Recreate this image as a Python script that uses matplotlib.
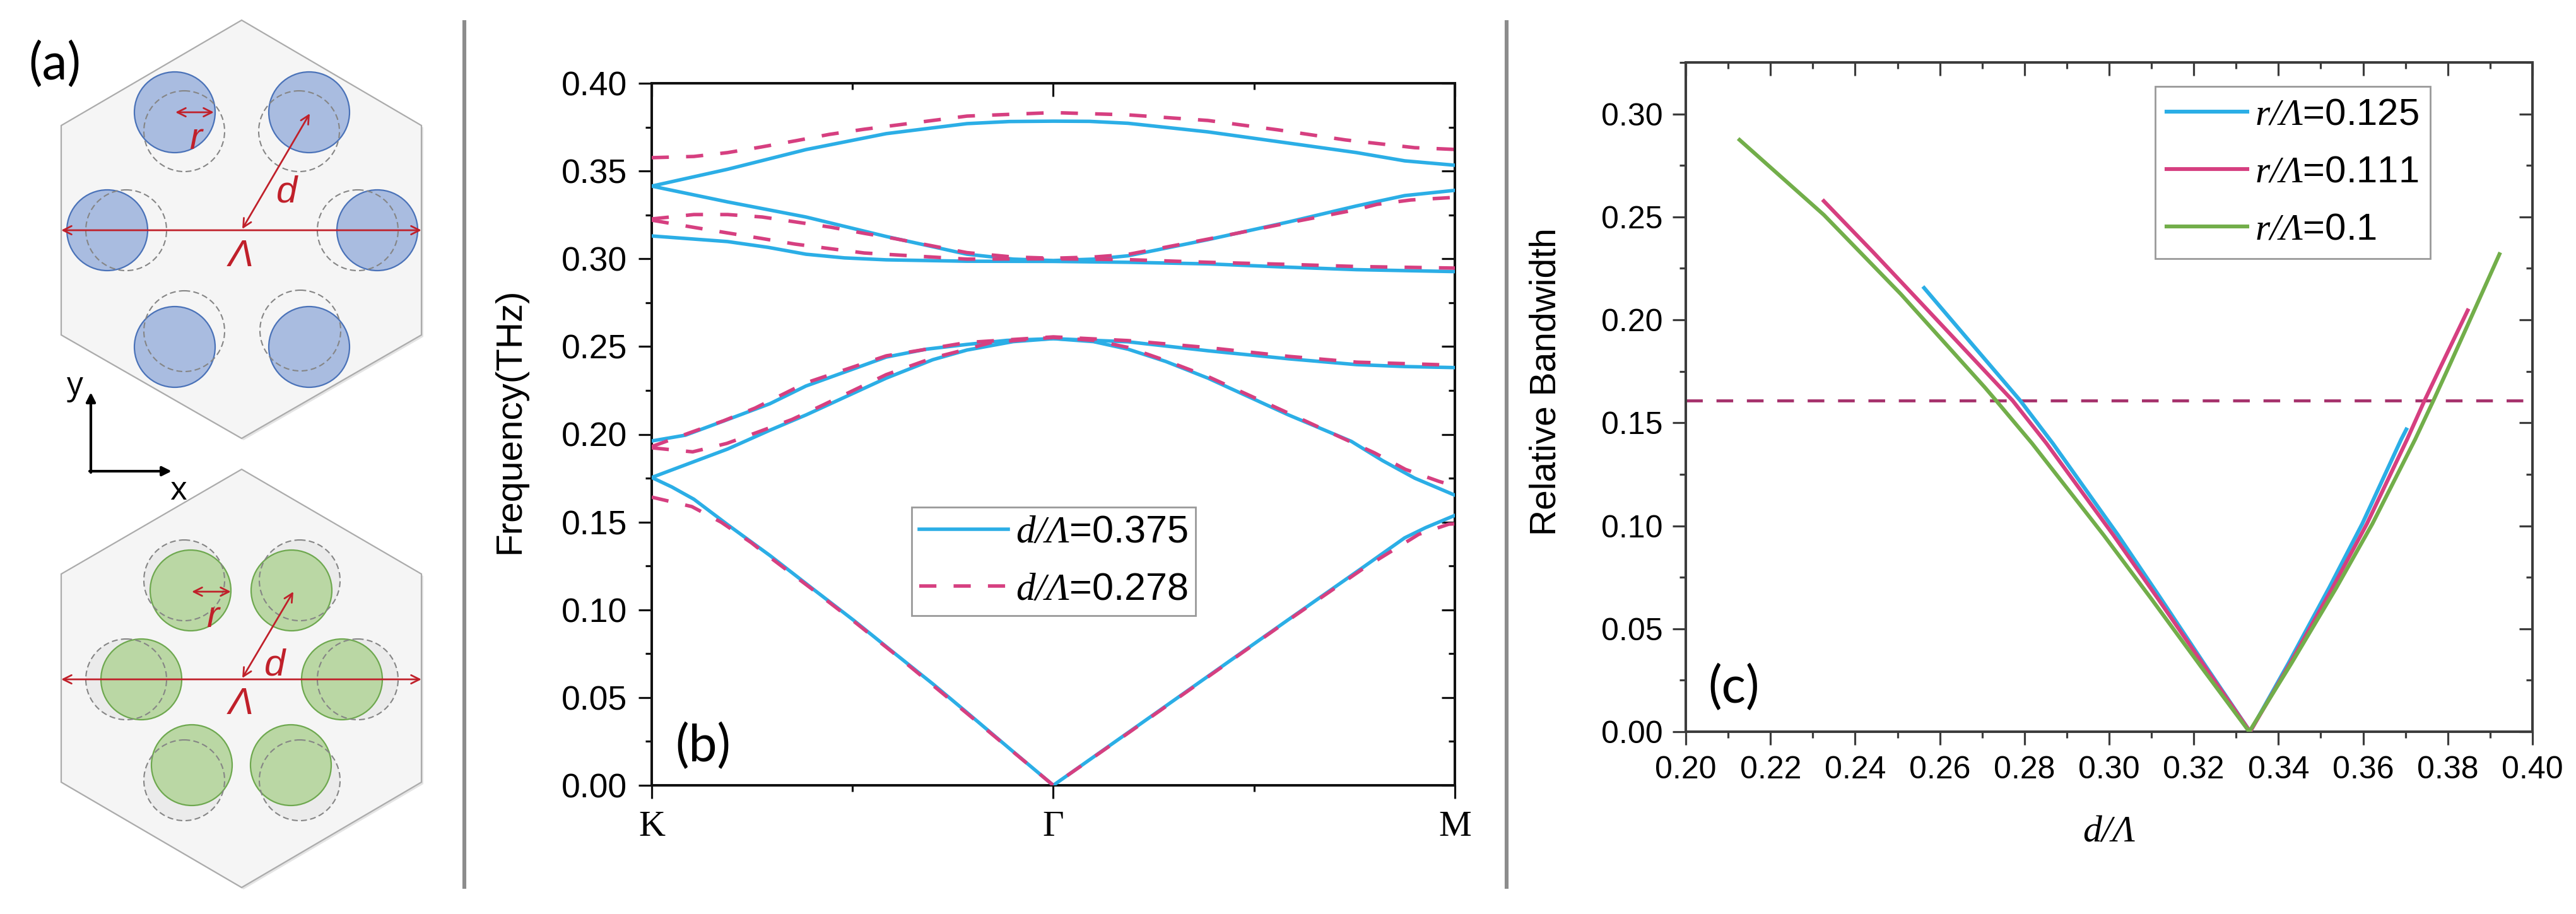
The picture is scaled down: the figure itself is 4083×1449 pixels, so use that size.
import numpy as np
import matplotlib
matplotlib.use("Agg")
import matplotlib.pyplot as plt
from matplotlib.patches import Polygon, Circle

plt.rcParams["font.family"] = ["Liberation Sans", "DejaVu Sans"]
plt.rcParams["mathtext.fontset"] = "custom"
plt.rcParams["mathtext.it"] = "Liberation Serif:italic"
plt.rcParams["mathtext.rm"] = "Liberation Serif:italic"

W, H = 4083, 1449

# ---- panel (b) band data, x: K=0, Gamma=1, M=2
sym_points = [0, 1, 2]
sym_labels = ["K", "Γ", "M"]
freq_ticks = [0.00, 0.05, 0.10, 0.15, 0.20, 0.25, 0.30, 0.35, 0.40]

blue1_x = [0, .05, .105, .189, .294, .398, .503, .607, .70, .785, .9, 1, 1.186, 1.385, 1.586, 1.77, 1.875, 1.927, 2]
blue1_f = [.1754, .170, .163, .1485, .131, .1125, .094, .0748, .0578, .0415, .0192, 0, .030, .0621, .0945, .124, .141, .1468, .1538]
blue2_x = [0, .084, .189, .294, .384, .584, .70, .785, .9, 1, 1.1, 1.186, 1.28, 1.385, 1.586, 1.742, 1.82, 1.9, 2]
blue2_f = [.1754, .1826, .1916, .2023, .211, .232, .2425, .2480, .2528, .2545, .2528, .2485, .2415, .232, .211, .196, .185, .175, .1653]
blue3_x = [0, .084, .189, .294, .384, .584, .684, .785, .884, 1, 1.186, 1.385, 1.586, 1.755, 1.875, 2]
blue3_f = [.1962, .1995, .2084, .2174, .2275, .244, .2485, .2512, .2535, .2545, .2527, .2476, .243, .2397, .2386, .238]
blue4_x = [0, .189, .29, .384, .48, .584, .785, 1, 1.186, 1.385, 1.586, 1.755, 2]
blue4_f = [.313, .3098, .3065, .3026, .3005, .2994, .2986, .2985, .298, .2971, .2952, .2938, .2927]
blue5_x = [0, .189, .384, .584, .785, .9, 1, 1.1, 1.186, 1.385, 1.586, 1.755, 1.875, 2]
blue5_f = [.3414, .3324, .3238, .3127, .3026, .2998, .299, .2998, .3017, .3109, .321, .3301, .336, .339]
blue6_x = [0, .189, .384, .584, .785, .89, 1, 1.09, 1.186, 1.385, 1.586, 1.755, 1.875, 2]
blue6_f = [.3414, .351, .3622, .3713, .377, .3782, .3784, .3783, .3772, .3723, .3659, .3605, .3558, .3533]

pink1_x = [0, .1, .173, .247, .294, .398, .503, .607, .785, 1, 1.186, 1.385, 1.586, 1.77, 1.91, 1.985, 2]
pink1_f = [.1642, .1588, .1499, .1384, .130, .112, .0935, .0745, .041, 0, .0297, .0618, .0942, .1232, .143, .1488, .149]
pink2_x = [0, .102, .187, .265, .349, .424, .584, .70, .785, .845, 1, 1.1, 1.186, 1.28, 1.385, 1.586, 1.8, 1.877, 1.96, 2]
pink2_f = [.1923, .19, .1948, .2013, .2084, .2164, .234, .2435, .2485, .2523, .2552, .2535, .2495, .242, .2329, .212, .1894, .18, .1732, .1705]
pink3_x = [0, .1, .179, .257, .384, .584, .785, 1, 1.186, 1.385, 1.586, 1.755, 1.955, 2]
pink3_f = [.193, .2013, .2077, .2149, .2293, .2447, .2523, .2555, .2534, .2494, .2444, .2411, .2397, .239]
pink4_x = [0, .102, .187, .273, .356, .443, .529, .785, 1, 1.186, 1.385, 1.586, 1.755, 2]
pink4_f = [.322, .318, .3148, .3116, .3084, .3058, .3033, .2998, .300, .2995, .298, .2968, .2956, .2947]
pink5_x = [0, .105, .189, .275, .361, .446, .529, .603, .785, .9, 1, 1.1, 1.186, 1.385, 1.586, 1.755, 1.806, 1.89, 2]
pink5_f = [.3227, .3252, .3252, .3238, .3209, .318, .3145, .3116, .3035, .3010, .3003, .3010, .3025, .3112, .3205, .328, .331, .3335, .335]
pink6_x = [0, .105, .189, .273, .36, .443, .529, .785, 1, 1.186, 1.385, 1.561, 1.728, 1.9, 2]
pink6_f = [.3576, .3583, .3605, .3637, .3673, .3709, .3738, .3813, .3833, .382, .3788, .3734, .3677, .3633, .3623]

blue_bands = [(blue1_x, blue1_f), (blue2_x, blue2_f), (blue3_x, blue3_f),
              (blue4_x, blue4_f), (blue5_x, blue5_f), (blue6_x, blue6_f)]
pink_bands = [(pink1_x, pink1_f), (pink2_x, pink2_f), (pink3_x, pink3_f),
              (pink4_x, pink4_f), (pink5_x, pink5_f), (pink6_x, pink6_f)]

# ---- panel (c) data
r125_x = [.2563, .2677, .279, .2867, .3021, .3121, .3229, .3333, .3423, .3520, .3598, .3690, .3702]
r125_y = [.2155, .1880, .1608, .1400, .0955, .065, .0316, 0, .033, .070, .101, .142, .1468]
r111_x = [.2326, .2442, .2562, .2772, .2852, .3010, .3114, .3226, .3333, .3427, .3528, .3609, .3704, .3745, .3779, .3847]
r111_y = [.2577, .2330, .2068, .1608, .1400, .0955, .065, .0316, 0, .033, .070, .101, .142, .1608, .1755, .2046]
r100_x = [.2127, .2326, .2508, .2706, .2733, .2818, .2987, .3098, .3217, .3331, .3430, .3537, .3622, .3723, .3766, .3802, .3847, .3922]
r100_y = [.2874, .2510, .2125, .1673, .1608, .1400, .0955, .065, .0316, 0, .033, .070, .101, .142, .1608, .1770, .1975, .2319]
ref_bandwidth = 0.1608
d_ticks = [.20, .22, .24, .26, .28, .30, .32, .34, .36, .38, .40]
rb_ticks = [0, .05, .10, .15, .20, .25, .30]

# ---- panel (a) sketch, image pixels
hex_top = [(383, 32), (668, 199), (668, 531), (383, 695), (97, 531), (97, 199)]
hex_bot = [(383, 744), (668, 910), (668, 1240), (383, 1407), (97, 1240), (97, 910)]
blue_holes = [(277, 178), (490, 178), (170, 365), (598, 365), (277, 550), (490, 550)]
green_holes = [(302, 936), (462, 936), (224, 1077), (542, 1077), (304, 1213), (461, 1213)]
dash_top = [(292, 208), (474, 208), (200, 365), (567, 365), (292, 525), (476, 524)]
dash_bot = [(292, 920), (475, 920), (200, 1077), (567, 1077), (292, 1237), (475, 1237)]

BLUE = "#2BAEE6"
PINK = "#D63F80"
GREEN = "#72AE4A"
RED = "#C0202A"


def axes_px(left, top, right, bottom):
    return fig.add_axes([left / W, 1 - bottom / H, (right - left) / W, (bottom - top) / H])


def frame(ax, color, xmaj, xmin, ymaj, ymin):
    for s in ax.spines.values():
        s.set_linewidth(2.9)
        s.set_color(color)
    ax.set_xticks(xmaj)
    ax.set_xticks(xmin, minor=True)
    ax.set_yticks(ymaj)
    ax.set_yticks(ymin, minor=True)
    ax.tick_params(which="major", direction="out", length=15, width=2.3, color=color)
    ax.tick_params(which="minor", direction="out", length=7.5, width=2.3, color=color)
    top = ax.secondary_xaxis("top")
    right = ax.secondary_yaxis("right")
    top.set_xticks(xmaj)
    top.set_xticks(xmin, minor=True)
    right.set_yticks(ymaj)
    right.set_yticks(ymin, minor=True)
    for sec in (top, right):
        sec.tick_params(which="major", direction="in", length=15, width=2.3, color=color,
                        labeltop=False, labelright=False)
        sec.tick_params(which="minor", direction="in", length=7.5, width=2.3, color=color)
        for s in sec.spines.values():
            s.set_visible(False)


fig = plt.figure(figsize=(W / 100, H / 100), dpi=100, facecolor="white")

# ---- sketch layer
sk = fig.add_axes([0, 0, 1, 1], zorder=0)
sk.set_xlim(0, W)
sk.set_ylim(H, 0)
sk.axis("off")

for xdiv in (736, 2388):
    sk.plot([xdiv, xdiv], [32, 1409], color="#8C8C8C", lw=4.4, solid_capstyle="butt")

for verts, holes, dashed, fc, ec, under in [
    (hex_top, blue_holes, dash_top, "#A9BCE0", "#4A72B8", "none"),
    (hex_bot, green_holes, dash_bot, "#BAD7A4", "#6EA84F", "#EBEBEB"),
]:
    sk.add_patch(Polygon(np.array(verts) + [3, 3], closed=True, fc="#E4E4E4", ec="none"))
    sk.add_patch(Polygon(verts, closed=True, fc="#F5F5F5", ec="#ABABAB", lw=1.6))
    for c in dashed:
        sk.add_patch(Circle(c, 64, fc=under, ec="none"))
    for c in holes:
        sk.add_patch(Circle(c, 64, fc=fc, ec=ec, lw=1.6))
    for c in dashed:
        sk.add_patch(Circle(c, 64, fc="none", ec="#858585", lw=1.5, ls=(0, (4.5, 2.5))))


def red_arrow(p0, p1, style="<->"):
    sk.annotate("", xy=p1, xytext=p0,
                arrowprops=dict(arrowstyle=style, color=RED, lw=2.0, mutation_scale=24,
                                shrinkA=0, shrinkB=0))


red_arrow((97, 365), (668, 365))
red_arrow((384, 363), (491, 180))
red_arrow((278, 178), (339, 178))
red_arrow((97, 1077), (668, 1077))
red_arrow((384, 1075), (465, 938))
red_arrow((304, 938), (366, 938))

red_labels = [("r", 311, 220), ("d", 455, 305), ("Λ", 382, 407),
              ("r", 338, 978), ("d", 436, 1055), ("Λ", 382, 1116)]
for s, xp, yp in red_labels:
    sk.text(xp, yp, s, color=RED, style="italic", fontsize=43, ha="center", va="center")

sk.annotate("", xy=(144, 622), xytext=(144, 749),
            arrowprops=dict(arrowstyle="-|>", color="black", lw=3, mutation_scale=22, shrinkA=0, shrinkB=0))
sk.annotate("", xy=(272, 747), xytext=(142, 747),
            arrowprops=dict(arrowstyle="-|>", color="black", lw=3, mutation_scale=22, shrinkA=0, shrinkB=0))
sk.text(119, 612, "y", family="Open Sans", fontsize=37, ha="center", va="center")
sk.text(282, 778, "x", family="Open Sans", fontsize=37, ha="center", va="center")
sk.text(87, 102, "(a)", family="Lato", fontsize=58, ha="center", va="center")

# ---- panel (b)
axb = axes_px(1033, 132, 2306, 1245)
axb.set_zorder(1)
first = True
for xs, fs in blue_bands:
    axb.plot(xs, fs, color=BLUE, lw=4, zorder=3, label=r"$\mathit{d/\Lambda}$=0.375" if first else None)
    first = False
first = True
for xs, fs in pink_bands:
    axb.plot(xs, fs, color=PINK, lw=4, dashes=(4.9, 4.9), zorder=4,
             label=r"$\mathit{d/\Lambda}$=0.278" if first else None)
    first = False
axb.set_xlim(0, 2)
axb.set_ylim(0, 0.40)
frame(axb, "#111111", sym_points, [0.5, 1.5], freq_ticks, np.arange(0.025, 0.4, 0.05))
axb.set_xticklabels(sym_labels, family="Liberation Serif", fontsize=42)
axb.set_yticklabels([f"{v:.2f}" for v in freq_ticks], fontsize=38.5)
axb.tick_params(axis="y", which="major", pad=13)
axb.tick_params(axis="x", which="major", pad=14)
axb.set_ylabel("Frequency(THz)", fontsize=42)
axb.yaxis.set_label_coords((835 - 1033) / 1273, (1245 - 667) / 1113)
axb.text((1114 - 1033) / 1273, (1245 - 1183) / 1113, "(b)", transform=axb.transAxes,
         family="Lato", fontsize=58, ha="center", va="center")
axb.legend(loc="upper left", bbox_to_anchor=((1445 - 1033) / 1273, (1245 - 804) / 1113),
           borderaxespad=0, fontsize=44, frameon=True, fancybox=False, framealpha=1,
           edgecolor="#999999", handlelength=2.3, handletextpad=0.2, labelspacing=0.55,
           borderpad=0.2).get_frame().set_linewidth(2)

# ---- panel (c)
axc = axes_px(2672, 99, 4014, 1160)
axc.set_zorder(1)
axc.axhline(ref_bandwidth, color="#A5306B", lw=3.4, dashes=(5.6, 4.6), zorder=2)
axc.plot(r125_x, r125_y, color=BLUE, lw=4.4, label=r"$\mathit{r/\Lambda}$=0.125", zorder=3)
axc.plot(r111_x, r111_y, color=PINK, lw=4.4, label=r"$\mathit{r/\Lambda}$=0.111", zorder=4)
axc.plot(r100_x, r100_y, color=GREEN, lw=4.4, label=r"$\mathit{r/\Lambda}$=0.1", zorder=5)
axc.set_xlim(0.20, 0.40)
axc.set_ylim(0, 0.325)
frame(axc, "#3C3C3C", d_ticks, np.arange(0.21, 0.40, 0.02), rb_ticks, np.arange(0.025, 0.33, 0.05))
axc.set_xticklabels([f"{v:.2f}" for v in d_ticks], fontsize=36)
axc.set_yticklabels([f"{v:.2f}" for v in rb_ticks], fontsize=36)
axc.tick_params(axis="y", which="major", pad=11)
axc.tick_params(axis="x", which="major", pad=12)
axc.set_ylabel("Relative Bandwidth", fontsize=41)
axc.yaxis.set_label_coords((2477 - 2672) / 1342, (1160 - 605) / 1061)
axc.set_xlabel(r"$\mathit{d/\Lambda}$", fontsize=43)
axc.xaxis.set_label_coords((3343 - 2672) / 1342, (1160 - 1290) / 1061)
axc.text((2748 - 2672) / 1342, (1160 - 1090) / 1061, "(c)", transform=axc.transAxes,
         family="Lato", fontsize=58, ha="center", va="center")
axc.legend(loc="upper left", bbox_to_anchor=((3416 - 2672) / 1342, (1160 - 137) / 1061),
           borderaxespad=0, fontsize=43, frameon=True, fancybox=False, framealpha=1,
           edgecolor="#999999", handlelength=2.15, handletextpad=0.2, labelspacing=0.6,
           borderpad=0.3).get_frame().set_linewidth(2)

fig.savefig("out.png", dpi=100)
